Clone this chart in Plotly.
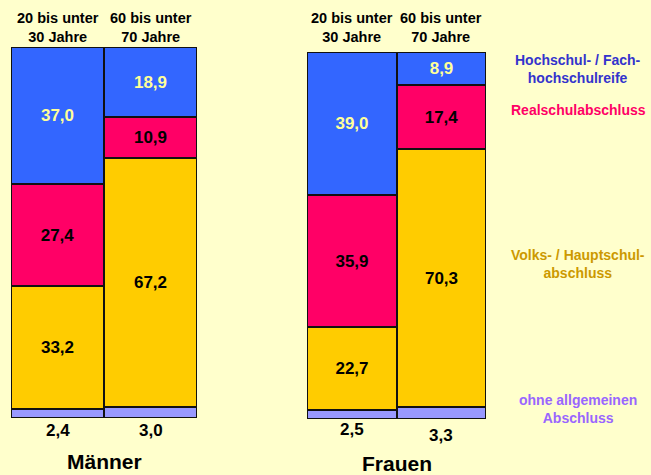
import plotly.graph_objects as go

age_groups = ["20 bis unter<br>30 Jahre", "60 bis unter<br>70 Jahre"]
levels = ["ohne allgemeinen Abschluss", "Volks- / Hauptschulabschluss",
          "Realschulabschluss", "Hochschul- / Fachhochschulreife"]

maenner = {
    "ohne allgemeinen Abschluss": [2.4, 3.0],
    "Volks- / Hauptschulabschluss": [33.2, 67.2],
    "Realschulabschluss": [27.4, 10.9],
    "Hochschul- / Fachhochschulreife": [37.0, 18.9],
}
frauen = {
    "ohne allgemeinen Abschluss": [2.5, 3.3],
    "Volks- / Hauptschulabschluss": [22.7, 70.3],
    "Realschulabschluss": [35.9, 17.4],
    "Hochschul- / Fachhochschulreife": [39.0, 8.9],
}

colors = {
    "ohne allgemeinen Abschluss": "#9999FF",
    "Volks- / Hauptschulabschluss": "#FFCC00",
    "Realschulabschluss": "#FF0066",
    "Hochschul- / Fachhochschulreife": "#3366FF",
}
text_colors = {
    "ohne allgemeinen Abschluss": "black",
    "Volks- / Hauptschulabschluss": "black",
    "Realschulabschluss": "black",
    "Hochschul- / Fachhochschulreife": "#FFFF99",
}
legend_labels = [
    ("Hochschul- / Fach-<br>hochschulreife", "#3333CC", 69),
    ("Realschulabschluss", "#FF0066", 110),
    ("Volks- / Hauptschul-<br>abschluss", "#CC9900", 264),
    ("ohne allgemeinen<br>Abschluss", "#9966FF", 409),
]

FONT = "Liberation Sans, Arial, sans-serif"
W, H = 651, 475


def fmt(v):
    return f"{v:.1f}".replace(".", ",")


def py(pix):
    return 1 - pix / H


fig = go.Figure()

for data, xa, ya in [(maenner, "x", "y"), (frauen, "x2", "y2")]:
    for lvl in levels:
        vals = data[lvl]
        txt = ["" if lvl == levels[0] else f"<b>{fmt(v)}</b>" for v in vals]
        fig.add_trace(go.Bar(
            x=[0, 1], y=vals, width=1, xaxis=xa, yaxis=ya,
            marker=dict(color=colors[lvl], line=dict(color="#111111", width=2)),
            text=txt, textposition="inside", insidetextanchor="middle",
            textangle=0,
            textfont=dict(family=FONT, size=17, color=text_colors[lvl]),
            showlegend=False, hoverinfo="skip",
        ))

# small bottom values below the bars
for data, xa, ys in [(maenner, "x", [430, 430]), (frauen, "x2", [429, 435])]:
    for i, v in enumerate(data[levels[0]]):
        fig.add_annotation(x=i, y=py(ys[i]), xref=xa, yref="paper", text=f"<b>{fmt(v)}</b>",
                           showarrow=False, xanchor="center", yanchor="middle",
                           font=dict(family=FONT, size=17, color="black"))
    for i, g in enumerate(age_groups):
        fig.add_annotation(x=i, y=py(27), xref=xa, yref="paper", text=f"<b>{g}</b>",
                           showarrow=False, xanchor="center", yanchor="middle",
                           font=dict(family=FONT, size=14.5, color="black"))

fig.add_annotation(x=0.5, y=py(461), xref="x", yref="paper", text="<b>Männer</b>", showarrow=False,
                   xanchor="center", yanchor="middle", font=dict(family=FONT, size=21, color="black"))
fig.add_annotation(x=0.5, y=py(463), xref="x2", yref="paper", text="<b>Frauen</b>", showarrow=False,
                   xanchor="center", yanchor="middle", font=dict(family=FONT, size=21, color="black"))

for txt, col, ypix in legend_labels:
    fig.add_annotation(x=578 / W, y=py(ypix), xref="paper", yref="paper", text=f"<b>{txt}</b>",
                       showarrow=False, xanchor="center", yanchor="middle",
                       font=dict(family=FONT, size=14, color=col))

axis_common = dict(showgrid=False, zeroline=False, showticklabels=False, ticks="")
fig.update_layout(
    width=W, height=H,
    margin=dict(l=0, r=0, t=0, b=0),
    paper_bgcolor="#FFFFCC", plot_bgcolor="rgba(0,0,0,0)",
    barmode="stack", bargap=0,
    xaxis=dict(domain=[11 / W, 197 / W], range=[-0.5, 1.5], **axis_common),
    yaxis=dict(domain=[py(418), py(47)], range=[0, 100], **axis_common),
    xaxis2=dict(domain=[307 / W, 486 / W], range=[-0.5, 1.5], anchor="y2", **axis_common),
    yaxis2=dict(domain=[py(419), py(52)], range=[0, 100], anchor="x2", **axis_common),
)

fig.write_html("out.html", config={"displayModeBar": False},
               post_script="document.body.style.margin='0';")
